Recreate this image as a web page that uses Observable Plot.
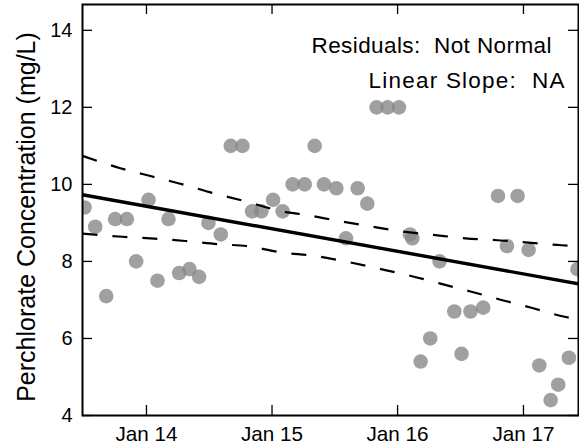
<!DOCTYPE html>
<html>
<head>
<meta charset="utf-8">
<script src="https://cdn.jsdelivr.net/npm/d3@7"></script>
<script src="https://cdn.jsdelivr.net/npm/@observablehq/plot@0.6"></script>
<style>
  html, body { margin: 0; padding: 0; background: #fff; }
</style>
</head>
<body>
<div id="chart"></div>
<script>
// Observed samples
const sampleDates = [
  "2013-07-05","2013-08-05","2013-09-06","2013-10-02","2013-11-05","2013-12-02",
  "2014-01-07","2014-02-02","2014-03-06","2014-04-06","2014-05-06","2014-06-03",
  "2014-06-30","2014-08-05","2014-09-03","2014-10-07","2014-11-04","2014-12-01",
  "2015-01-04","2015-02-01","2015-03-02","2015-04-06","2015-05-05","2015-06-01",
  "2015-07-07","2015-08-04","2015-09-07","2015-10-05","2015-11-01","2015-12-03",
  "2016-01-05","2016-02-06","2016-02-13","2016-03-08","2016-04-05","2016-05-02",
  "2016-06-14","2016-07-05","2016-07-31","2016-09-06","2016-10-19","2016-11-14",
  "2016-12-15","2017-01-16","2017-02-16","2017-03-21","2017-04-12","2017-05-13",
  "2017-06-07"
];
const concentrations = [
  9.4, 8.9, 7.1, 9.1, 9.1, 8.0,
  9.6, 7.5, 9.1, 7.7, 7.8, 7.6,
  9.0, 8.7, 11.0, 11.0, 9.3, 9.3,
  9.6, 9.3, 10.0, 10.0, 11.0, 10.0,
  9.9, 8.6, 9.9, 9.5, 12.0, 12.0,
  12.0, 8.7, 8.6, 5.4, 6.0, 8.0,
  6.7, 5.6, 6.7, 6.8, 9.7, 8.4,
  9.7, 8.3, 5.3, 4.4, 4.8, 5.5,
  7.8
];

// Trend line endpoints
const trendDates = ["2013-06-29", "2017-06-10"];
const trendValues = [9.73, 7.42];

// Upper and lower dashed bounds
const upperDates = ["2013-06-29","2013-10-17","2014-01-15","2014-04-16","2014-07-15","2014-10-07",
  "2015-01-31","2015-04-14","2015-07-13","2015-10-14","2016-01-12","2016-04-14",
  "2016-07-16","2016-10-17","2017-01-15","2017-04-21","2017-06-10"];
const upperValues = [10.74, 10.42, 10.21, 10.0, 9.77, 9.58,
  9.3, 9.2, 9.05, 8.91, 8.78, 8.69,
  8.6, 8.55, 8.49, 8.42, 8.40];
const lowerDates = ["2013-06-29","2013-10-23","2014-01-24","2014-04-24","2014-07-26","2014-10-27",
  "2015-01-31","2015-05-01","2015-08-02","2015-11-03","2016-02-02","2016-05-02",
  "2016-07-31","2016-10-29","2017-01-27","2017-04-27","2017-06-10"];
const lowerValues = [8.72, 8.64, 8.59, 8.53, 8.45, 8.39,
  8.23, 8.15, 8.0, 7.82, 7.64, 7.43,
  7.22, 7.0, 6.79, 6.57, 6.49];

// Axes
const xDomain = ["2013-06-29", "2017-06-10"];
const yDomain = [4, 14.67];
const xTickDates = ["2014-01-01", "2015-01-01", "2016-01-01", "2017-01-01"];
const xTickLabels = ["Jan 14", "Jan 15", "Jan 16", "Jan 17"];
const yTicks = [4, 6, 8, 10, 12, 14];
const yTitle = "Perchlorate Concentration (mg/L)";
const noteLine1 = "Residuals:  Not Normal";
const noteLine2 = "Linear Slope:  NA";

const parse = d3.utcParse("%Y-%m-%d");
const samples = sampleDates.map((d, i) => ({date: parse(d), value: concentrations[i]}));
const trend = trendDates.map((d, i) => ({date: parse(d), value: trendValues[i]}));
const upper = upperDates.map((d, i) => ({date: parse(d), value: upperValues[i]}));
const lower = lowerDates.map((d, i) => ({date: parse(d), value: lowerValues[i]}));
const xTicks = xTickDates.map(parse);

const W = 579, H = 448, mL = 82, mR = 1, mT = 4, mB = 33;
const innerW = W - mL - mR, innerH = H - mT - mB;
const font = "'Liberation Sans', Arial, Helvetica, sans-serif";

const chart = Plot.plot({
  width: W,
  height: H,
  marginLeft: mL,
  marginRight: mR,
  marginTop: mT,
  marginBottom: mB,
  style: {fontFamily: font, background: "#fff", color: "#000"},
  x: {type: "utc", domain: xDomain.map(parse)},
  y: {domain: yDomain},
  marks: [
    Plot.dot(samples, {x: "date", y: "value", r: 7.3, fill: "#878787", fillOpacity: 0.79, stroke: "none", clip: true}),
    Plot.line(trend, {x: "date", y: "value", stroke: "#000", strokeWidth: 3.4, strokeLinecap: "butt", clip: true}),
    Plot.line(upper, {x: "date", y: "value", stroke: "#000", strokeWidth: 2.2, strokeLinecap: "butt", strokeDasharray: "15,15", curve: "monotone-x", clip: true}),
    Plot.line(lower, {x: "date", y: "value", stroke: "#000", strokeWidth: 2.2, strokeLinecap: "butt", strokeDasharray: "15,15", curve: "monotone-x", clip: true}),
    // inward ticks on all four sides
    Plot.tickX(xTicks, {x: d => d, insetTop: innerH - 10, stroke: "#000", strokeWidth: 1.3}),
    Plot.tickX(xTicks, {x: d => d, insetBottom: innerH - 10, stroke: "#000", strokeWidth: 1.3}),
    Plot.tickY(yTicks, {y: d => d, insetRight: innerW - 10, stroke: "#000", strokeWidth: 1.3}),
    Plot.tickY(yTicks, {y: d => d, insetLeft: innerW - 10, stroke: "#000", strokeWidth: 1.3}),
    Plot.axisX({ticks: xTicks, tickSize: 0, tickPadding: 11, fontSize: 20.7,
      tickFormat: d => xTickLabels[xTickDates.indexOf(d3.utcFormat("%Y-%m-%d")(d))], label: null}),
    Plot.axisY({ticks: yTicks, tickSize: 0, tickPadding: 10, fontSize: 20, label: null}),
    Plot.text([yTitle], {frameAnchor: "left", textAnchor: "middle", rotate: -90, dx: -56, dy: 7, fontSize: 25, fill: "#000"}),
    Plot.text([noteLine1], {frameAnchor: "top-left", textAnchor: "start", dx: 229, dy: 32.4, fontSize: 22.5, fill: "#000"}),
    Plot.text([noteLine2], {frameAnchor: "top-left", textAnchor: "start", dx: 286, dy: 67.4, fontSize: 22.5, fill: "#000"}),
    Plot.frame({stroke: "#000", strokeWidth: 2})
  ]
});
document.getElementById("chart").appendChild(chart);

// fit the two note lines to the widths they span in the reference
const noteWidths = new Map([[noteLine1, 240], [noteLine2, 196]]);
d3.select(chart).selectAll("text").each(function() {
  const w = noteWidths.get(this.textContent);
  if (w) {
    this.setAttribute("textLength", w);
    this.setAttribute("lengthAdjust", "spacing");
  }
});
</script>
</body>
</html>
